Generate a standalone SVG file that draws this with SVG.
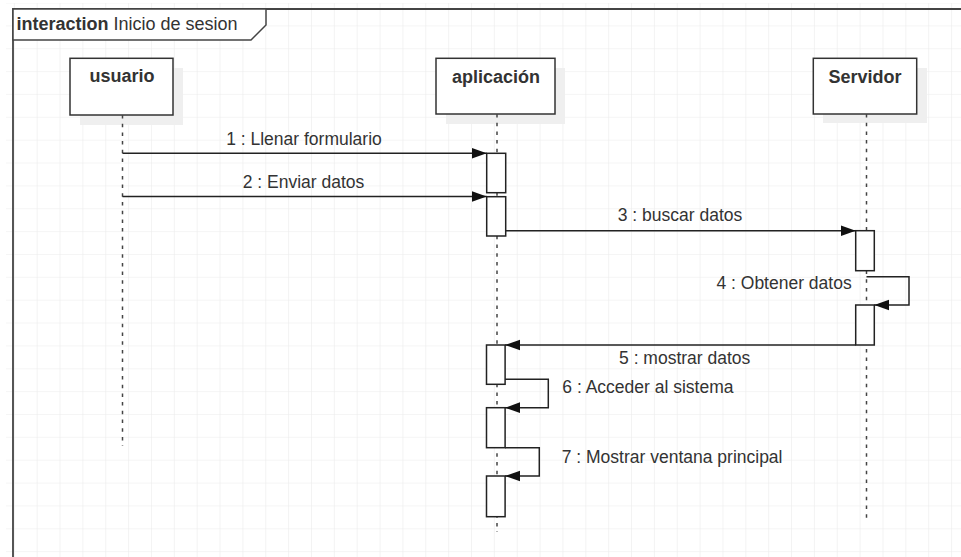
<svg xmlns="http://www.w3.org/2000/svg" width="961" height="557" viewBox="0 0 961 557">
<style>
.lbl{font-family:"Liberation Sans",Arial,sans-serif;font-size:17.5px;fill:#333}
.name{font-family:"Liberation Sans",Arial,sans-serif;font-size:18px;font-weight:bold;fill:#333}
.box{fill:#fff;stroke:#333;stroke-width:1.5}
.shadow{fill:#efefef}
.life{stroke:#444;stroke-width:1.5;stroke-dasharray:3.5 5.2;fill:none}
.act{fill:#fff;stroke:#222;stroke-width:1.5}
.msg{stroke:#222;stroke-width:1.5;fill:none}
</style>
<defs>
<pattern id="grid" x="13.8" y="2.5" width="22.86" height="22.86" patternUnits="userSpaceOnUse">
<path d="M0,0 H22.86 M0,0 V22.86" stroke="#ebebeb" stroke-width="1.2" fill="none"/>
</pattern>
<marker id="arr" markerWidth="16" markerHeight="12" refX="15" refY="6" orient="auto" markerUnits="userSpaceOnUse">
<path d="M0,0.6 L15,6 L0,11.4 z" fill="#111"/>
</marker>
</defs>
<rect x="0" y="0" width="961" height="557" fill="#fff"/>
<rect x="6" y="3" width="955" height="554" fill="url(#grid)"/>
<g id="frame">
<path d="M13,557 V9 H961" stroke="#444" stroke-width="1.8" fill="none"/>
<path d="M13,9 H266 V25 L251,40 H13 Z" fill="#fff" stroke="#444" stroke-width="1.5"/>
<text x="16.5" y="30" class="lbl" style="font-size:18px"><tspan font-weight="bold">interaction</tspan> Inicio de sesion</text>
</g>
<g id="usuario">
<rect class="shadow" x="80" y="68" width="103" height="57"/>
<rect class="box" x="70" y="58.3" width="103" height="56.7"/>
<text class="name" x="122" y="81.7" text-anchor="middle">usuario</text>
<line class="life" x1="122.5" y1="115" x2="122.5" y2="446"/>
</g>
<g id="aplicacion">
<rect class="shadow" x="446" y="68" width="119" height="56"/>
<rect class="box" x="436" y="58.3" width="119" height="55.7"/>
<text class="name" x="496" y="82.7" text-anchor="middle">aplicación</text>
<line class="life" x1="497" y1="114" x2="497" y2="532"/>
</g>
<g id="servidor">
<rect class="shadow" x="823" y="68" width="104" height="55"/>
<rect class="box" x="813.3" y="58.3" width="103.4" height="55.7"/>
<text class="name" x="865" y="82.7" text-anchor="middle">Servidor</text>
<line class="life" x1="866.5" y1="114" x2="866.5" y2="522"/>
</g>
<g id="activations">
<rect class="act" x="486.7" y="153.3" width="19" height="39.4"/>
<rect class="act" x="486.7" y="196.7" width="19" height="39.3"/>
<rect class="act" x="855.7" y="230.7" width="18.6" height="40"/>
<rect class="act" x="855.7" y="305" width="18.6" height="40"/>
<rect class="act" x="486.5" y="345" width="18.6" height="39.3"/>
<rect class="act" x="486.5" y="407.7" width="18.6" height="40"/>
<rect class="act" x="486.5" y="476" width="18.6" height="40.7"/>
</g>
<g id="connectors">
<line class="msg" x1="122.5" y1="153.3" x2="486.7" y2="153.3" marker-end="url(#arr)"/>
<line class="msg" x1="122.5" y1="196.5" x2="486.7" y2="196.5" marker-end="url(#arr)"/>
<line class="msg" x1="505.7" y1="230.7" x2="855.7" y2="230.7" marker-end="url(#arr)"/>
<path class="msg" d="M866.5,276.7 H909 V305 H874.3" marker-end="url(#arr)"/>
<line class="msg" x1="855.7" y1="345" x2="505.1" y2="345" marker-end="url(#arr)"/>
<path class="msg" d="M505.1,379.3 H548.3 V407.7 H505.1" marker-end="url(#arr)"/>
<path class="msg" d="M505.1,447.7 H539.3 V476 H505.1" marker-end="url(#arr)"/>
</g>
<g id="labels">
<text class="lbl" x="304" y="145" text-anchor="middle">1 : Llenar formulario</text>
<text class="lbl" x="303.5" y="187.7" text-anchor="middle">2 : Enviar datos</text>
<text class="lbl" x="680" y="220.7" text-anchor="middle">3 : buscar datos</text>
<text class="lbl" x="851.7" y="289.3" text-anchor="end">4 : Obtener datos</text>
<text class="lbl" x="684.7" y="364" text-anchor="middle">5 : mostrar datos</text>
<text class="lbl" x="562.3" y="393.3">6 : Acceder al sistema</text>
<text class="lbl" x="561.7" y="462.7">7 : Mostrar ventana principal</text>
</g>
</svg>
